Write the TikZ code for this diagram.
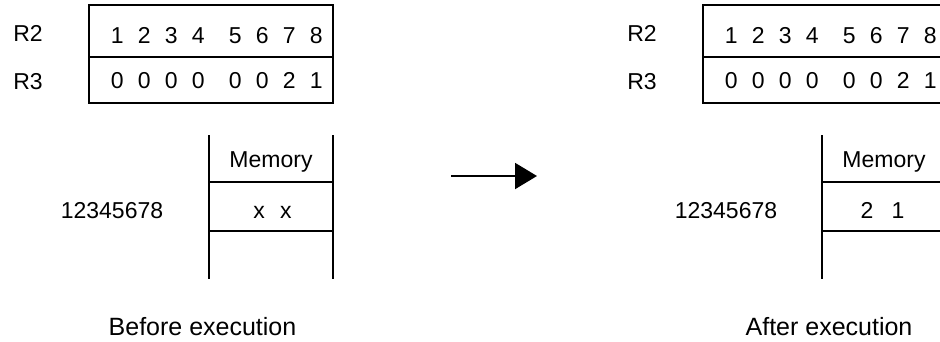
\documentclass[tikz,border=0pt]{standalone}
\usepackage{fontspec}
\setmainfont{Liberation Sans}
\usetikzlibrary{arrows.meta}
\newcommand{\regdg}[1]{\makebox[27pt]{#1}}
\newcommand{\regrow}[8]{\regdg{#1}\regdg{#2}\regdg{#3}\regdg{#4}\hspace{10pt}\regdg{#5}\regdg{#6}\regdg{#7}\regdg{#8}}
\begin{document}
\begin{tikzpicture}[x=1pt,y=-1pt,
  rule/.style={line width=1.1pt, draw=black},
  txt/.style={inner sep=0pt, anchor=base, font=\fontsize{23}{27}\selectfont},
  captext/.style={inner sep=0pt, anchor=base, font=\fontsize{25}{30}\selectfont},
  flow/.style={line width=2pt, -{Triangle[length=22pt,width=26pt]}}]
\useasboundingbox (0,0) rectangle (940,341);
\clip (0,0) rectangle (940,341);

% ---------- Before ----------
\draw[rule] (89,5) rectangle (333,103);
\draw[rule] (89,57) -- (333,57);
\node[txt] (r2a) at (28,41) {R2};
\node[txt] (r3a) at (28,89) {R3};
\node[txt, anchor=base west] (v2a) at (103.5,43) {\regrow12345678};
\node[txt, anchor=base west] (v3a) at (103.5,88) {\regrow00000021};

\draw[rule] (209,135) -- (209,279);
\draw[rule] (333,135) -- (333,279);
\draw[rule] (209,182) -- (333,182);
\draw[rule] (209,231) -- (333,231);
\node[txt] (mema) at (271,167) {Memory};
\node[txt] (cella) at (272.5,218) {\makebox[27pt]{x}\makebox[27pt]{x}};
\node[txt] (addra) at (112,218) {12345678};
\node[captext] (capa) at (202.5,335) {Before execution};

% ---------- arrow ----------
\coordinate (arrs) at (451,176);
\coordinate (arre) at (537,176);
\draw[flow] (arrs) -- (arre);

% ---------- After ----------
\draw[rule] (703,5) rectangle (947,103);
\draw[rule] (703,57) -- (947,57);
\node[txt] (r2b) at (642,41) {R2};
\node[txt] (r3b) at (642,89) {R3};
\node[txt, anchor=base west] (v2b) at (717.5,43) {\regrow12345678};
\node[txt, anchor=base west] (v3b) at (717.5,88) {\regrow00000021};

\draw[rule] (822,135) -- (822,279);
\draw[rule] (946,135) -- (946,279);
\draw[rule] (822,182) -- (946,182);
\draw[rule] (822,231) -- (946,231);
\node[txt] (memb) at (884,167) {Memory};
\node[txt] (cellb) at (882.5,218) {\makebox[31pt]{2}\makebox[31pt]{1}};
\node[txt] (addrb) at (726,218) {12345678};
\node[captext] (capb) at (829,335) {After execution};
\end{tikzpicture}
\end{document}
